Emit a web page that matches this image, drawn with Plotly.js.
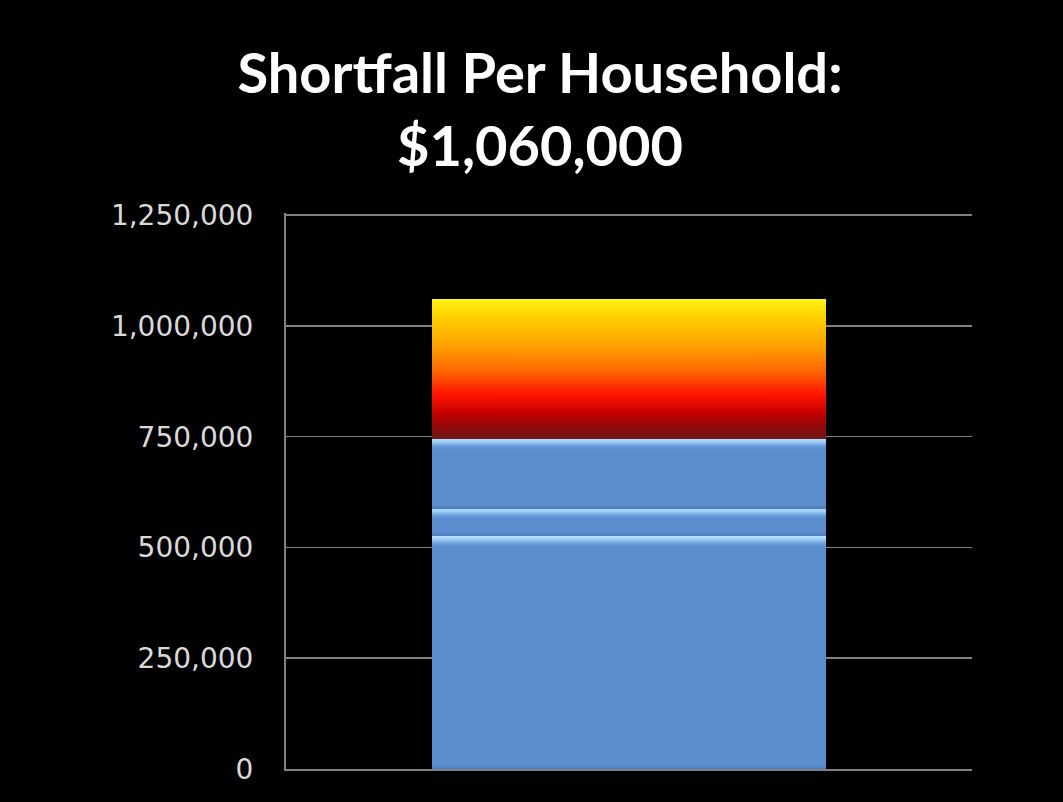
<!DOCTYPE html>
<html>
<head>
<meta charset="utf-8">
<script src="https://cdn.plot.ly/plotly-3.0.1.min.js"></script>
<style>
  html, body { margin: 0; padding: 0; background: #000; }
  #chart { width: 1063px; height: 802px; }
</style>
</head>
<body>
<div id="chart"></div>
<script>
// ---- Data ----
const categories = [""];
const segmentNames = ["Segment 1", "Segment 2", "Segment 3", "Shortfall"];
const segmentValues = [525000, 63000, 157000, 315000];
const titleLines = ["Shortfall Per Household:", "$1,060,000"];
const yTickValues = [0, 250000, 500000, 750000, 1000000, 1250000];

// ---- Styles ----
const blueFill = "#5b8dcf";
const traces = segmentNames.map((name, i) => ({
  type: "bar",
  name: name,
  x: categories,
  y: [segmentValues[i]],
  width: 0.573,
  marker: { color: i === 3 ? "#ff6a00" : blueFill, line: { width: 0 } },
  hoverinfo: "skip"
}));

const layout = {
  width: 1063,
  height: 802,
  paper_bgcolor: "#000",
  plot_bgcolor: "#000",
  barmode: "stack",
  showlegend: false,
  margin: { l: 286, r: 91, t: 213, b: 33 },
  title: {
    text: titleLines.join("<br>"),
    font: { family: "Lato, 'Open Sans', sans-serif", size: 56, color: "#ffffff", weight: "bold" },
    x: 0.508,
    xanchor: "center",
    y: 0.884,
    yanchor: "top"
  },
  xaxis: {
    range: [-0.5, 0.5],
    showticklabels: false,
    ticks: "",
    showgrid: false,
    zeroline: false,
    showline: true,
    linecolor: "#808080",
    linewidth: 2,
    fixedrange: true
  },
  yaxis: {
    range: [0, 1255000],
    tickvals: yTickValues,
    tickformat: ",d",
    ticks: "",
    showgrid: true,
    gridcolor: "#808080",
    gridwidth: 1.5,
    zeroline: false,
    showline: true,
    linecolor: "#808080",
    linewidth: 2,
    ticklabelstandoff: 25,
    tickfont: { family: "'DejaVu Sans', sans-serif", size: 28, color: "#d9d9d9" },
    fixedrange: true
  }
};

function svgEl(tag, attrs) {
  const el = document.createElementNS("http://www.w3.org/2000/svg", tag);
  for (const k in attrs) el.setAttribute(k, attrs[k]);
  return el;
}

function addGradient(defs, id, stops) {
  const g = svgEl("linearGradient", { id: id, x1: "0", y1: "0", x2: "0", y2: "1" });
  stops.forEach(s => g.appendChild(svgEl("stop", { offset: s[0], "stop-color": s[1] })));
  defs.appendChild(g);
}

function styleBars(gd) {
  const svg = gd.querySelector("svg.main-svg");
  let defs = svg.querySelector("defs");
  if (!defs) { defs = svgEl("defs", {}); svg.insertBefore(defs, svg.firstChild); }
  const traceGroups = gd.querySelectorAll(".barlayer .trace");
  traceGroups.forEach((tg, i) => {
    const path = tg.querySelector(".point path");
    if (!path) return;
    const id = "grad-seg-" + i;
    const old = defs.querySelector("#" + id);
    if (old) old.remove();
    if (i === 3) {
      addGradient(defs, id, [
        [0, "#fff31a"], [0.1, "#ffd600"], [0.33, "#ffa200"], [0.52, "#ff6400"],
        [0.68, "#ff1400"], [0.82, "#c20000"], [0.93, "#8a0c0c"], [1, "#6e1a1a"]
      ]);
    } else {
      const h = Math.max(path.getBBox().height, 1);
      const f = px => Math.min(px / h, 1);
      addGradient(defs, id, [
        [0, "#b8deff"], [f(3), "#9cccf5"], [f(7), "#6c9fdc"], [f(10), blueFill],
        [Math.max(1 - f(4), f(10)), blueFill], [1, "#4c7bb6"]
      ]);
    }
    path.style.fill = "url(#" + id + ")";
  });
}

Plotly.newPlot("chart", traces, layout, { staticPlot: true, displayModeBar: false })
  .then(gd => styleBars(gd));
</script>
</body>
</html>
